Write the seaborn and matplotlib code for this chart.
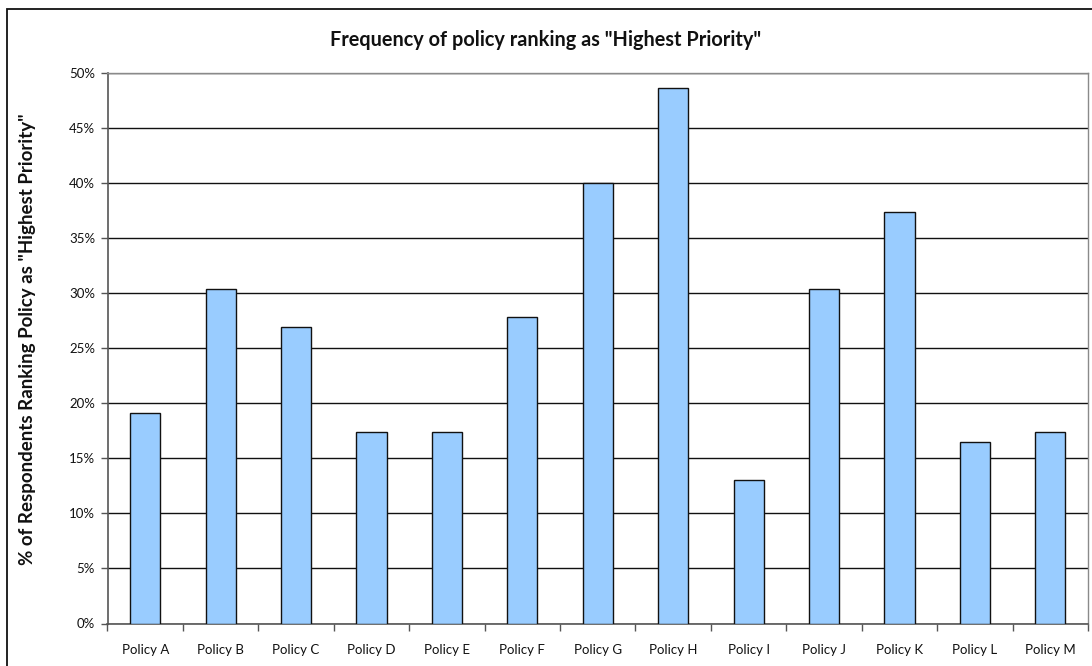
import matplotlib
matplotlib.use("Agg")
import matplotlib.pyplot as plt
import seaborn as sns
import pandas as pd
from matplotlib.patches import Rectangle
from matplotlib.ticker import FuncFormatter, FixedLocator

# Share of respondents (%) naming each policy their highest priority
policies = ["Policy A", "Policy B", "Policy C", "Policy D", "Policy E", "Policy F", "Policy G",
            "Policy H", "Policy I", "Policy J", "Policy K", "Policy L", "Policy M"]
share_pct = [19.13, 30.43, 26.96, 17.39, 17.39, 27.83, 40.00,
             48.70, 13.04, 30.43, 37.39, 16.52, 17.39]
y_ticks = [0, 5, 10, 15, 20, 25, 30, 35, 40, 45, 50]

df = pd.DataFrame({"policy": policies, "share": share_pct})

sns.set_theme(style="white")
plt.rcParams["font.family"] = ["Lato", "DejaVu Sans"]

fig = plt.figure(figsize=(10.92, 6.66), dpi=100)
ax = fig.add_axes([107.5 / 1092, 1 - 623.5 / 666, (1088 - 107.5) / 1092, 550.2 / 666])

sns.barplot(data=df, x="policy", y="share", color="#99CCFF", saturation=1,
            edgecolor="#111111", linewidth=1.0, width=0.4, ax=ax, zorder=3)

ax.set_xlim(-0.5, len(policies) - 0.5)
ax.set_ylim(0, 50)
ax.set_yticks(y_ticks)
ax.yaxis.set_major_formatter(FuncFormatter(lambda v, _: f"{v:.0f}%"))

# horizontal gridlines behind the bars
ax.set_axisbelow(True)
ax.yaxis.grid(True, color="#111111", linewidth=1.0)
ax.xaxis.grid(False)

# category boundary ticks on the x axis
ax.xaxis.set_minor_locator(FixedLocator([i - 0.5 for i in range(len(policies) + 1)]))
ax.tick_params(axis="x", which="major", length=0, pad=15, labelsize=9.5, labelcolor="#111111")
ax.tick_params(axis="x", which="minor", length=5, width=1, color="#555555", direction="out", bottom=True)
ax.tick_params(axis="y", which="major", length=5, width=1, color="#555555", direction="out",
               left=True, labelsize=9.5, labelcolor="#111111", pad=4)

for side in ["top", "right"]:
    ax.spines[side].set_color("#8a8a8a")
    ax.spines[side].set_linewidth(1.0)
ax.spines["left"].set_color("#555555")
ax.spines["left"].set_linewidth(1.2)
ax.spines["bottom"].set_color("#555555")
ax.spines["bottom"].set_linewidth(1.2)

ax.set_xlabel("")
ax.set_ylabel("")
fig.text(28 / 1092, 1 - 339 / 666, '% of Respondents Ranking Policy as "Highest Priority"',
         rotation=90, ha="center", va="center", fontsize=13.5, fontweight="bold",
         color="#111111")

fig.text(0.5, 1 - 40 / 666, 'Frequency of policy ranking as "Highest Priority"',
         ha="center", va="center", fontsize=14.3, fontweight="bold", color="#111111")

# outer chart frame
fig.patches.append(Rectangle((7 / 1092, -0.05), 1.2, 1 - 9 / 666 + 0.05,
                             transform=fig.transFigure, fill=False,
                             edgecolor="#111111", linewidth=1.3))

fig.savefig("out.png", dpi=100, facecolor="white")
